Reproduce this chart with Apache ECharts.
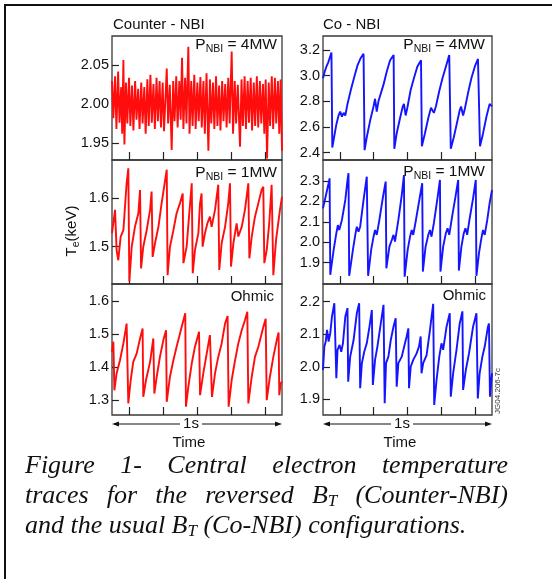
<!DOCTYPE html>
<html><head><meta charset="utf-8">
<script src="https://cdn.jsdelivr.net/npm/echarts@6/dist/echarts.min.js"></script>
<style>html,body{margin:0;padding:0;background:#fff}#c{width:552px;height:579px}</style>
</head><body><div id="c"></div>
<script>
// ---------- data (time in s, Te in keV) ----------
const counter4MW = [[0.000,2.030],[0.008,1.982],[0.018,2.036],[0.026,1.968],[0.036,2.042],[0.044,1.976],[0.054,2.022],[0.060,1.962],[0.067,2.057],[0.073,1.948],[0.082,2.028],[0.090,1.975],[0.100,2.034],[0.108,1.972],[0.118,2.024],[0.126,1.966],[0.136,2.030],[0.144,1.980],[0.154,2.020],[0.162,1.968],[0.172,2.028],[0.180,1.975],[0.190,2.022],[0.198,1.962],[0.208,2.032],[0.216,1.972],[0.226,2.038],[0.234,1.976],[0.244,2.026],[0.252,1.968],[0.262,2.034],[0.270,1.978],[0.280,2.030],[0.288,1.970],[0.298,2.028],[0.306,1.965],[0.322,2.046],[0.330,1.975],[0.340,2.025],[0.351,1.941],[0.360,2.030],[0.368,1.978],[0.378,2.036],[0.386,1.970],[0.396,2.030],[0.404,1.980],[0.412,2.060],[0.420,1.968],[0.430,2.034],[0.438,1.975],[0.449,2.074],[0.456,1.962],[0.466,2.030],[0.474,1.972],[0.484,2.038],[0.492,1.968],[0.502,2.028],[0.510,1.978],[0.520,2.035],[0.528,1.970],[0.538,2.030],[0.546,1.962],[0.556,2.040],[0.567,1.940],[0.576,2.032],[0.584,1.975],[0.594,2.028],[0.602,1.968],[0.612,2.036],[0.620,1.972],[0.630,2.024],[0.638,1.966],[0.648,2.030],[0.656,1.978],[0.666,2.026],[0.674,1.970],[0.684,2.034],[0.692,1.975],[0.704,2.068],[0.712,1.962],[0.722,2.030],[0.730,1.975],[0.740,2.025],[0.753,1.945],[0.762,2.032],[0.770,1.972],[0.780,2.036],[0.788,1.968],[0.798,2.030],[0.806,1.976],[0.816,2.034],[0.824,1.966],[0.834,2.028],[0.842,1.972],[0.852,2.036],[0.860,1.970],[0.870,2.030],[0.878,1.975],[0.888,2.026],[0.896,1.962],[0.904,2.032],[0.912,1.930],[0.922,2.028],[0.930,1.972],[0.940,2.036],[0.948,1.968],[0.958,2.034],[0.966,1.975],[0.976,2.030],[0.984,1.962],[0.992,2.032],[1.000,1.940]];

const counter1MW = [[0.000,1.528],[0.018,1.576],[0.027,1.493],[0.037,1.472],[0.051,1.521],[0.067,1.534],[0.086,1.631],[0.096,1.662],[0.102,1.428],[0.116,1.500],[0.135,1.541],[0.155,1.569],[0.165,1.617],[0.171,1.455],[0.184,1.500],[0.204,1.534],[0.224,1.576],[0.233,1.614],[0.239,1.479],[0.253,1.507],[0.273,1.541],[0.292,1.590],[0.322,1.659],[0.327,1.441],[0.341,1.500],[0.361,1.534],[0.380,1.569],[0.400,1.590],[0.416,1.610],[0.420,1.466],[0.439,1.500],[0.453,1.562],[0.469,1.631],[0.475,1.445],[0.488,1.493],[0.508,1.528],[0.518,1.590],[0.527,1.610],[0.533,1.500],[0.547,1.528],[0.561,1.548],[0.576,1.562],[0.586,1.541],[0.606,1.576],[0.625,1.628],[0.631,1.452],[0.645,1.507],[0.665,1.541],[0.684,1.590],[0.694,1.631],[0.700,1.459],[0.714,1.507],[0.733,1.548],[0.743,1.521],[0.763,1.541],[0.782,1.576],[0.802,1.631],[0.808,1.476],[0.822,1.521],[0.841,1.562],[0.861,1.590],[0.880,1.617],[0.890,1.624],[0.896,1.466],[0.910,1.493],[0.925,1.548],[0.939,1.628],[0.949,1.441],[0.965,1.514],[0.988,1.576],[1.000,1.603]];

const counterOhmic = [[0.000,1.446],[0.008,1.477],[0.014,1.330],[0.027,1.381],[0.047,1.421],[0.067,1.472],[0.086,1.532],[0.092,1.534],[0.096,1.290],[0.110,1.361],[0.125,1.416],[0.145,1.441],[0.165,1.487],[0.180,1.517],[0.184,1.310],[0.200,1.361],[0.224,1.416],[0.243,1.487],[0.249,1.320],[0.263,1.371],[0.282,1.431],[0.302,1.482],[0.318,1.512],[0.322,1.295],[0.341,1.371],[0.361,1.421],[0.380,1.462],[0.400,1.502],[0.420,1.542],[0.431,1.563],[0.435,1.280],[0.449,1.340],[0.469,1.411],[0.488,1.462],[0.512,1.507],[0.518,1.315],[0.537,1.381],[0.557,1.441],[0.576,1.497],[0.582,1.502],[0.588,1.310],[0.606,1.381],[0.625,1.431],[0.645,1.472],[0.665,1.532],[0.680,1.555],[0.686,1.280],[0.704,1.361],[0.724,1.421],[0.743,1.472],[0.763,1.512],[0.782,1.542],[0.796,1.568],[0.802,1.290],[0.822,1.371],[0.841,1.431],[0.861,1.462],[0.890,1.522],[0.904,1.547],[0.910,1.300],[0.929,1.371],[0.949,1.431],[0.969,1.482],[0.980,1.505],[0.984,1.315],[0.992,1.351],[1.000,1.356]];

const co4MW = [[0.000,2.98],[0.010,3.03],[0.020,3.07],[0.030,3.10],[0.040,3.14],[0.050,3.18],[0.053,3.19],[0.055,2.44],[0.063,2.50],[0.079,2.62],[0.092,2.69],[0.102,2.72],[0.112,2.68],[0.122,2.71],[0.132,2.69],[0.145,2.78],[0.165,2.89],[0.185,2.99],[0.204,3.08],[0.224,3.14],[0.240,3.17],[0.244,3.16],[0.246,2.42],[0.259,2.52],[0.279,2.65],[0.299,2.76],[0.308,2.82],[0.318,2.72],[0.328,2.80],[0.338,2.81],[0.358,2.93],[0.377,3.03],[0.397,3.12],[0.418,3.16],[0.422,2.43],[0.436,2.55],[0.456,2.67],[0.472,2.76],[0.479,2.78],[0.489,2.69],[0.499,2.75],[0.519,2.89],[0.538,2.98],[0.558,3.07],[0.580,3.12],[0.585,2.45],[0.603,2.55],[0.623,2.67],[0.639,2.75],[0.646,2.76],[0.656,2.71],[0.668,2.76],[0.688,2.88],[0.707,2.98],[0.727,3.07],[0.747,3.16],[0.754,3.17],[0.756,2.43],[0.774,2.52],[0.794,2.64],[0.809,2.73],[0.817,2.76],[0.829,2.69],[0.839,2.74],[0.859,2.87],[0.878,2.98],[0.898,3.07],[0.917,3.13],[0.927,3.12],[0.929,2.45],[0.947,2.55],[0.967,2.68],[0.986,2.78],[1.000,2.76]];

const co1MW = [[0.000,2.166],[0.020,2.240],[0.033,2.289],[0.039,2.313],[0.043,1.840],[0.063,1.962],[0.079,2.044],[0.088,2.084],[0.096,2.060],[0.112,2.109],[0.132,2.207],[0.145,2.305],[0.151,2.338],[0.155,1.835],[0.177,1.962],[0.191,2.036],[0.200,2.076],[0.210,2.052],[0.220,2.076],[0.240,2.207],[0.259,2.321],[0.263,2.329],[0.267,1.835],[0.285,1.962],[0.299,2.027],[0.308,2.060],[0.318,2.036],[0.332,2.101],[0.352,2.207],[0.367,2.280],[0.371,2.297],[0.375,1.872],[0.393,1.978],[0.407,2.011],[0.417,2.036],[0.426,2.003],[0.446,2.109],[0.466,2.231],[0.479,2.329],[0.483,1.831],[0.501,1.962],[0.515,2.027],[0.525,2.060],[0.534,2.036],[0.550,2.109],[0.570,2.207],[0.587,2.289],[0.591,1.856],[0.607,1.978],[0.623,2.036],[0.633,2.060],[0.642,2.027],[0.656,2.093],[0.676,2.207],[0.692,2.305],[0.695,1.856],[0.711,1.978],[0.727,2.044],[0.737,2.068],[0.747,2.036],[0.764,2.125],[0.784,2.223],[0.800,2.305],[0.804,1.861],[0.819,1.978],[0.833,2.044],[0.843,2.068],[0.853,2.036],[0.868,2.117],[0.888,2.215],[0.904,2.305],[0.908,1.835],[0.923,1.946],[0.937,2.019],[0.947,2.060],[0.957,2.036],[0.972,2.109],[0.986,2.191],[1.000,2.256]];

const coOhmic = [[0.000,1.990],[0.008,2.062],[0.016,2.077],[0.024,2.113],[0.033,2.077],[0.043,2.103],[0.053,2.154],[0.067,2.195],[0.073,2.200],[0.079,1.965],[0.086,2.052],[0.098,2.067],[0.108,2.046],[0.118,2.072],[0.132,2.154],[0.145,2.180],[0.149,1.954],[0.161,2.031],[0.181,2.082],[0.200,2.164],[0.214,2.195],[0.220,1.934],[0.230,2.011],[0.244,2.046],[0.259,2.072],[0.275,2.123],[0.289,2.174],[0.295,1.944],[0.308,2.021],[0.322,2.062],[0.342,2.133],[0.358,2.190],[0.365,1.888],[0.373,2.011],[0.387,2.031],[0.401,2.082],[0.417,2.123],[0.430,2.149],[0.436,1.939],[0.446,2.011],[0.466,2.031],[0.485,2.072],[0.495,2.093],[0.505,2.118],[0.509,1.934],[0.519,2.000],[0.534,2.021],[0.554,2.041],[0.568,2.062],[0.578,2.093],[0.583,1.980],[0.593,2.011],[0.613,2.036],[0.633,2.113],[0.652,2.193],[0.658,1.883],[0.672,1.960],[0.688,2.031],[0.701,2.072],[0.711,2.052],[0.731,2.123],[0.750,2.164],[0.756,1.908],[0.770,1.980],[0.790,2.052],[0.809,2.133],[0.825,2.170],[0.829,1.929],[0.845,1.990],[0.864,2.041],[0.888,2.123],[0.908,2.164],[0.916,1.903],[0.927,1.980],[0.943,2.031],[0.957,2.062],[0.976,2.123],[0.982,2.133],[0.988,1.908],[1.000,1.980]];

// tick labels
const timeTicks = [0.1, 0.3, 0.5, 0.7, 0.9];
const ticksC4 = [1.95, 2.00, 2.05];
const ticksC1 = [1.5, 1.6];
const ticksCO = [1.3, 1.4, 1.5, 1.6];
const ticksK4 = [2.4, 2.6, 2.8, 3.0, 3.2];
const ticksK1 = [1.9, 2.0, 2.1, 2.2, 2.3];
const ticksKO = [1.9, 2.0, 2.1, 2.2];

// ---------- layout ----------
const SANS = '"Liberation Sans", Arial, Helvetica, sans-serif';
const SERIF = '"Liberation Serif", "Times New Roman", serif';
const RED = '#ff0d0d', BLUE = '#1414ff';
const panels = [
  {g:{left:112, top:36, width:170, height:124}, data:counter4MW, ticks:ticksC4, min:1.928, max:2.088, dec:2, color:RED},
  {g:{left:112, top:160, width:170, height:124}, data:counter1MW, ticks:ticksC1, min:1.423, max:1.679, dec:1, color:RED},
  {g:{left:112, top:284, width:170, height:131}, data:counterOhmic, ticks:ticksCO, min:1.255, max:1.652, dec:1, color:RED},
  {g:{left:323, top:36, width:169, height:124}, data:co4MW, ticks:ticksK4, min:2.343, max:3.309, dec:1, color:BLUE},
  {g:{left:323, top:160, width:169, height:124}, data:co1MW, ticks:ticksK1, min:1.795, max:2.403, dec:1, color:BLUE},
  {g:{left:323, top:284, width:169, height:131}, data:coOhmic, ticks:ticksKO, min:1.852, max:2.254, dec:1, color:BLUE}
];

const ctx = document.createElement('canvas').getContext('2d');
function tw(t, font){ ctx.font = font; return ctx.measureText(t).width; }
function seq(segs, x, y, align, family, style, color){
  const fonts = segs.map(s => (style ? style + ' ' : '') + s.size + 'px ' + family);
  const widths = segs.map((s,i) => tw(s.t, fonts[i]));
  const total = widths.reduce((a,b)=>a+b, 0);
  let cx = align === 'right' ? x - total : align === 'center' ? x - total/2 : x;
  const els = [];
  segs.forEach((s,i) => {
    els.push({type:'text', x:cx, y:y + (s.dy||0), silent:true,
      style:{text:s.t, font:fonts[i], fill:color||'#111', textAlign:'left', align:'left', textVerticalAlign:'middle', verticalAlign:'middle'}});
    cx += widths[i];
  });
  return {els, width: total};
}

const graphic = [];
graphic.push({type:'rect', shape:{x:5, y:5, width:700, height:700}, silent:true, style:{fill:'none', stroke:'#111', lineWidth:2}});
function add(r){ graphic.push(...r.els); }
add(seq([{t:'Counter - NBI', size:15}], 113, 25, 'left', SANS));
add(seq([{t:'Co - NBI', size:15}], 323, 25, 'left', SANS));
function pnbi(mw){ return [{t:'P', size:15.5},{t:'NBI', size:10.5, dy:4},{t:' = ' + mw, size:15.5}]; }
add(seq(pnbi('4MW'), 277, 45, 'right', SANS));
add(seq(pnbi('4MW'), 485, 45, 'right', SANS));
add(seq(pnbi('1MW'), 277, 173, 'right', SANS));
add(seq(pnbi('1MW'), 485, 172, 'right', SANS));
add(seq([{t:'Ohmic', size:15}], 274, 297, 'right', SANS));
add(seq([{t:'Ohmic', size:15}], 486, 296, 'right', SANS));
graphic.push({type:'group', x:72, y:231, rotation:Math.PI/2, children: seq([{t:'T', size:15},{t:'e', size:10.5, dy:4},{t:'(keV)', size:15}], 0, 0, 'center', SANS).els});
graphic.push({type:'group', x:498, y:391, rotation:Math.PI/2, children: seq([{t:'JG04.206-7c', size:8}], 0, 0, 'center', SANS, '', '#333').els});

function arrow(x0, x1, y, c, gw){
  const st = {stroke:'#111', lineWidth:1.2};
  graphic.push({type:'line', silent:true, shape:{x1:x0+4, y1:y, x2:c-gw/2, y2:y}, style:st});
  graphic.push({type:'line', silent:true, shape:{x1:c+gw/2, y1:y, x2:x1-4, y2:y}, style:st});
  graphic.push({type:'polygon', silent:true, shape:{points:[[x0,y],[x0+7,y-2.5],[x0+7,y+2.5]]}, style:{fill:'#111'}});
  graphic.push({type:'polygon', silent:true, shape:{points:[[x1,y],[x1-7,y-2.5],[x1-7,y+2.5]]}, style:{fill:'#111'}});
}
arrow(112, 282, 424, 191, 22);
arrow(323, 492, 424, 402, 22);
add(seq([{t:'1s', size:15}], 191, 424, 'center', SANS));
add(seq([{t:'1s', size:15}], 402, 424, 'center', SANS));
add(seq([{t:'Time', size:15}], 189, 443, 'center', SANS));
add(seq([{t:'Time', size:15}], 400, 443, 'center', SANS));

// caption
const CS = 26;
function w(t){ return [{t, size:CS}]; }
const BT = [{t:'B', size:CS},{t:'T', size:17, dy:6}];
function justify(words, x0, x1, y){
  const ws = words.map(wd => seq(wd, 0, 0, 'left', SERIF, 'italic').width);
  const gap = (x1 - x0 - ws.reduce((a,b)=>a+b,0)) / (words.length - 1);
  let cx = x0;
  words.forEach((wd,i) => { add(seq(wd, cx, y, 'left', SERIF, 'italic')); cx += ws[i] + gap; });
}
function plain(words, x0, y){
  const sp = tw(' ', 'italic ' + CS + 'px ' + SERIF);
  let cx = x0;
  words.forEach(wd => { const r = seq(wd, cx, y, 'left', SERIF, 'italic'); add(r); cx += r.width + sp; });
}
justify([w('Figure'), w('1-'), w('Central'), w('electron'), w('temperature')], 25, 508, 466);
justify([w('traces'), w('for'), w('the'), w('reversed'), BT, w('(Counter-NBI)')], 25, 508, 496);
plain([w('and'), w('the'), w('usual'), BT, w('(Co-NBI)'), w('configurations.')], 25, 526);

// ---------- option ----------
const option = {
  animation:false,
  backgroundColor:'#fff',
  grid: panels.map(p => Object.assign({show:true, borderColor:'#3a3a3a', borderWidth:1.3, backgroundColor:'transparent'}, p.g)),
  xAxis: panels.map((p,i) => ({type:'value', gridIndex:i, min:0, max:1,
    axisLine:{show:false}, splitLine:{show:false},
    axisTick:{show:true, inside:true, length:8, customValues:timeTicks, lineStyle:{color:'#222', width:1.2}},
    axisLabel:{show:false}})),
  yAxis: panels.map((p,i) => ({type:'value', gridIndex:i, min:p.min, max:p.max,
    axisLine:{show:false}, splitLine:{show:false},
    axisTick:{show:true, inside:true, length:7, customValues:p.ticks, lineStyle:{color:'#222', width:1.2}},
    axisLabel:{show:true, customValues:p.ticks, margin:3, color:'#111', fontSize:14.5, fontFamily:SANS,
      formatter: v => Number(v).toFixed(p.dec)}})),
  series: panels.map((p,i) => ({type:'line', xAxisIndex:i, yAxisIndex:i, data:p.data, showSymbol:false, symbol:'none',
    lineStyle:{color:p.color, width:1.9}, silent:true})),
  graphic: graphic
};
echarts.init(document.getElementById('c'), null, {renderer:'canvas'}).setOption(option);
</script>
</body></html>
